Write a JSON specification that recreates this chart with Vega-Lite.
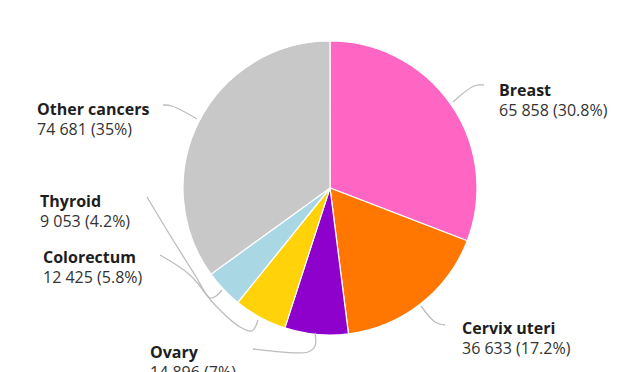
{
  "$schema": "https://vega.github.io/schema/vega-lite/v6.json",
  "width": 620,
  "height": 368,
  "padding": {"left": 20, "top": 4, "right": 0, "bottom": 0},
  "background": "white",
  "config": {"view": {"stroke": null}},
  "datasets": {
    "slices": [
      {"cancer": "Breast", "cases": 65858, "rank": 1, "value": "65 858 (30.8%)", "lx": 169, "ly": -92},
      {"cancer": "Cervix uteri", "cases": 36633, "rank": 2, "value": "36 633 (17.2%)", "lx": 132, "ly": 146},
      {"cancer": "Ovary", "cases": 14896, "rank": 3, "value": "14 896 (7%)", "lx": -180, "ly": 170},
      {"cancer": "Colorectum", "cases": 12425, "rank": 4, "value": "12 425 (5.8%)", "lx": -287, "ly": 75},
      {"cancer": "Thyroid", "cases": 9053, "rank": 5, "value": "9 053 (4.2%)", "lx": -290, "ly": 19},
      {"cancer": "Other cancers", "cases": 74681, "rank": 6, "value": "74 681 (35%)", "lx": -293, "ly": -73}
    ],
    "leaders": [
      {"cancer": "Other cancers", "seq": 1, "x": -167, "y": -83},
      {"cancer": "Other cancers", "seq": 2, "x": -158, "y": -82},
      {"cancer": "Other cancers", "seq": 3, "x": -133, "y": -69},
      {"cancer": "Breast", "seq": 1, "x": 123, "y": -86},
      {"cancer": "Breast", "seq": 2, "x": 144, "y": -102},
      {"cancer": "Breast", "seq": 3, "x": 154, "y": -103},
      {"cancer": "Cervix uteri", "seq": 1, "x": 91, "y": 118},
      {"cancer": "Cervix uteri", "seq": 2, "x": 105, "y": 134},
      {"cancer": "Cervix uteri", "seq": 3, "x": 115, "y": 137},
      {"cancer": "Ovary", "seq": 1, "x": -15, "y": 145},
      {"cancer": "Ovary", "seq": 2, "x": -15, "y": 158},
      {"cancer": "Ovary", "seq": 3, "x": -22, "y": 164},
      {"cancer": "Ovary", "seq": 4, "x": -77, "y": 161},
      {"cancer": "Colorectum", "seq": 1, "x": -170, "y": 67},
      {"cancer": "Colorectum", "seq": 2, "x": -140, "y": 87},
      {"cancer": "Colorectum", "seq": 3, "x": -115, "y": 117},
      {"cancer": "Colorectum", "seq": 4, "x": -90, "y": 139},
      {"cancer": "Colorectum", "seq": 5, "x": -78, "y": 143},
      {"cancer": "Colorectum", "seq": 6, "x": -72, "y": 132},
      {"cancer": "Thyroid", "seq": 1, "x": -183, "y": 9},
      {"cancer": "Thyroid", "seq": 2, "x": -157, "y": 52},
      {"cancer": "Thyroid", "seq": 3, "x": -135, "y": 87},
      {"cancer": "Thyroid", "seq": 4, "x": -120, "y": 110},
      {"cancer": "Thyroid", "seq": 5, "x": -114, "y": 108},
      {"cancer": "Thyroid", "seq": 6, "x": -108, "y": 102}
    ]
  },
  "layer": [
    {
      "data": {"name": "slices"},
      "mark": {"type": "arc", "outerRadius": 147, "stroke": "white", "strokeWidth": 1.2},
      "encoding": {
        "theta": {"field": "cases", "type": "quantitative", "stack": true},
        "order": {"field": "rank", "type": "quantitative"},
        "color": {
          "field": "cancer", "type": "nominal", "legend": null,
          "scale": {
            "domain": ["Breast", "Cervix uteri", "Ovary", "Colorectum", "Thyroid", "Other cancers"],
            "range": ["#ff66c4", "#ff7700", "#8e00cc", "#ffd20a", "#a9d8e4", "#c8c8c8"]
          }
        }
      }
    },
    {
      "data": {"name": "leaders"},
      "mark": {"type": "line", "interpolate": "catmull-rom", "color": "#bdbdbd", "strokeWidth": 1.3},
      "encoding": {
        "x": {"field": "x", "type": "quantitative", "scale": {"domain": [-310, 310]}, "axis": null},
        "y": {"field": "y", "type": "quantitative", "scale": {"domain": [-184, 184], "reverse": true}, "axis": null},
        "detail": {"field": "cancer"},
        "order": {"field": "seq", "type": "quantitative"}
      }
    },
    {
      "data": {"name": "slices"},
      "mark": {"type": "text", "align": "left", "baseline": "alphabetic", "font": "Open Sans", "fontWeight": "bold", "fontSize": 16, "color": "#1e1e1e"},
      "encoding": {
        "x": {"field": "lx", "type": "quantitative", "scale": {"domain": [-310, 310]}, "axis": null},
        "y": {"field": "ly", "type": "quantitative", "scale": {"domain": [-184, 184], "reverse": true}, "axis": null},
        "text": {"field": "cancer"}
      }
    },
    {
      "data": {"name": "slices"},
      "mark": {"type": "text", "align": "left", "baseline": "alphabetic", "font": "Open Sans", "fontSize": 16, "color": "#333333", "dy": 20},
      "encoding": {
        "x": {"field": "lx", "type": "quantitative", "scale": {"domain": [-310, 310]}, "axis": null},
        "y": {"field": "ly", "type": "quantitative", "scale": {"domain": [-184, 184], "reverse": true}, "axis": null},
        "text": {"field": "value"}
      }
    }
  ]
}
